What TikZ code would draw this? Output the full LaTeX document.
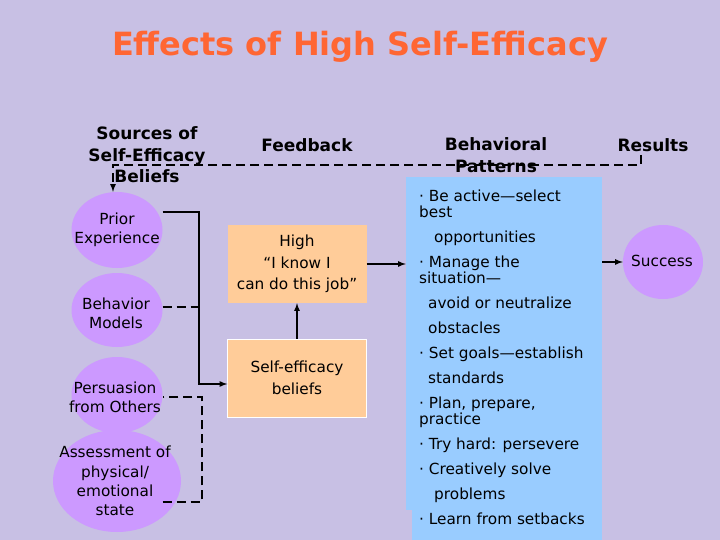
\documentclass[tikz,border=0pt]{standalone}
\usepackage{fontspec}
\setmainfont{DejaVu Sans}
\usetikzlibrary{shapes.geometric,positioning}

\definecolor{bgcol}{RGB}{200,192,228}
\definecolor{titlecol}{RGB}{255,102,51}
\definecolor{lilac}{RGB}{204,153,255}
\definecolor{peach}{RGB}{255,204,153}
\definecolor{skyblue}{RGB}{153,204,255}

\newcommand{\txtsize}{\fontsize{15.3}{19.3}\selectfont}
\newcommand{\boxsize}{\fontsize{15.3}{21.7}\selectfont}
\newcommand{\headsize}{\fontsize{17}{21.5}\selectfont\bfseries}

\tikzset{
    srcnode/.style={ellipse, fill=lilac, inner sep=0pt},
    srctext/.style={align=center, inner sep=0pt, font=\txtsize},
    peachbox/.style={rectangle, fill=peach, inner sep=0pt, minimum width=139pt, minimum height=78pt, align=center, font=\boxsize},
    colhead/.style={align=center, font=\headsize},
    link/.style={line width=1.6pt},
    fblink/.style={line width=1.6pt, dash pattern=on 9pt off 5pt},
}

\begin{document}
\begin{tikzpicture}[>=latex, x=1pt, y=-1pt]
    % 1. Nền và tiêu đề
    \fill[bgcol] (0,0) rectangle (720,540);
    \useasboundingbox (0,0) rectangle (720,540);
    \node[font=\fontsize{32}{36}\selectfont\bfseries, text=titlecol] (title) at (360,47) {Effects of High Self-Efficacy};

    % 2. Tiêu đề các cột
    \node[colhead] (hsources) at (147,155) {Sources of\\Self-Efficacy\\Beliefs};
    \node[colhead] (hfeedback) at (307,145) {Feedback};
    \node[colhead] (hpatterns) at (496,155) {Behavioral\\Patterns};
    \node[colhead] (hresults) at (653,145) {Results};

    % 3. Các nguồn (hình elip)
    \node[srcnode, minimum width=91pt, minimum height=76pt] (prior) at (117,230) {};
    \node[srcnode, minimum width=91pt, minimum height=74pt] (models) at (117,310) {};
    \node[srcnode, minimum width=91pt, minimum height=76pt] (persuasion) at (117,395) {};
    \node[srcnode, minimum width=128pt, minimum height=102pt] (assess) at (117,481) {};
    \node[srctext] (priortxt) at (117,230) {Prior\\Experience};
    \node[srctext] (modelstxt) at (116,313) {Behavior\\Models};
    \node[srctext] (persuasiontxt) at (115,397) {Persuasion\\from Others};
    \node[srctext] (assesstxt) at (115,481) {Assessment of\\physical/\\emotional\\state};

    % 4. Các hộp niềm tin
    \node[peachbox] (high) at (297,264) {High\\“I know I\\can do this job”};
    \node[peachbox, draw=white, thin] (belief) at (297,378) {Self-efficacy\\beliefs};

    % 5. Hộp hành vi
    \fill[skyblue] (412,505) rectangle (602,540);
    \node[rectangle, fill=skyblue, inner sep=0pt, minimum width=196pt, minimum height=333pt] (patterns) at (504,343.5) {};
    \node[anchor=north west, align=left, inner sep=0pt, font=\fontsize{15.3}{25}\selectfont] (plist) at (419,190) {%
        · Be active—select\\[-9pt]
        best\\
        \hspace*{15pt}opportunities\\
        · Manage the\\[-9pt]
        situation—\\
        \hspace*{9pt}avoid or neutralize\\
        \hspace*{9pt}obstacles\\
        · Set goals—establish\\
        \hspace*{9pt}standards\\
        · Plan, prepare,\\[-9pt]
        practice\\
        · Try hard: persevere\\
        · Creatively solve\\
        \hspace*{15pt}problems\\
        · Learn from setbacks};

    % 6. Kết quả
    \node[srcnode, minimum width=80pt, minimum height=74pt] (success) at (663,262) {};
    \node[srctext] (successtxt) at (662,261) {Success};

    % 7. Các đường nối
    \coordinate (merge) at (199,384);
    \draw[link, ->] ([yshift=18pt]prior.east) -| (merge) -- (belief.west |- merge);
    \draw[fblink] ([yshift=3pt]models.east) -- ([yshift=3pt]models.east -| merge);
    \draw[fblink] ([yshift=-21pt]assess.center -| prior.east) -| ([xshift=3pt,yshift=-2pt]persuasion.east -| merge) -- ([yshift=-2pt]persuasion.east);
    \draw[link, ->] (belief.north) -- (high.south);
    \draw[link, ->] (high.east) -- (high.east -| patterns.west);
    \draw[link, ->] (patterns.east |- success) -- (success.west);

    % 8. Vòng phản hồi
    \coordinate (fbend) at (641,155);
    \draw[fblink, ->] (fbend) -- ++(0,10) -| ([xshift=-4pt]prior.north);
\end{tikzpicture}
\end{document}
